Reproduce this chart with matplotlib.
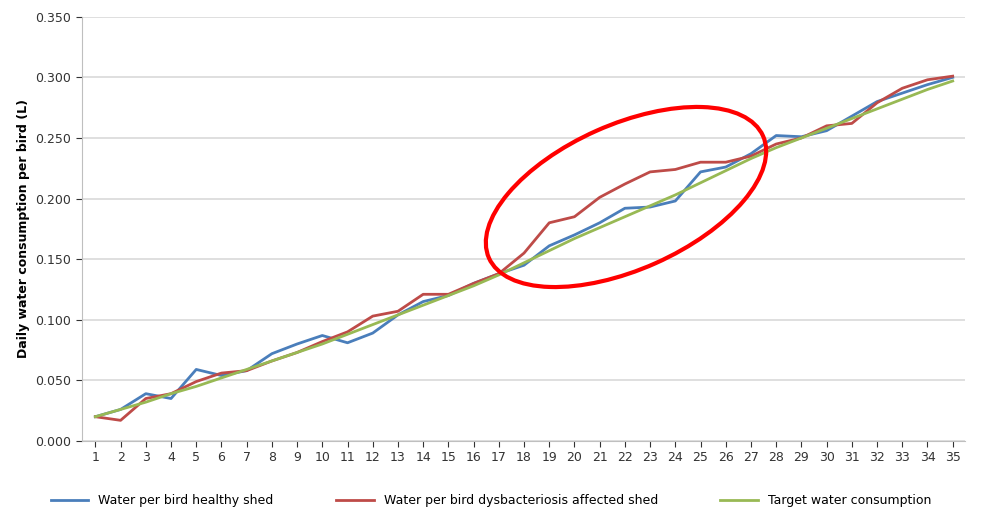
import matplotlib.pyplot as plt
from matplotlib.patches import Ellipse
from matplotlib.transforms import IdentityTransform

days = list(range(1, 36))
healthy = [0.020, 0.026, 0.039, 0.035, 0.059, 0.054, 0.058, 0.072, 0.080, 0.087,
           0.081, 0.089, 0.104, 0.115, 0.120, 0.130, 0.138, 0.145, 0.161, 0.170,
           0.180, 0.192, 0.193, 0.198, 0.222, 0.226, 0.237, 0.252, 0.251, 0.256,
           0.268, 0.280, 0.287, 0.294, 0.300]
affected = [0.020, 0.017, 0.035, 0.039, 0.049, 0.056, 0.058, 0.066, 0.073, 0.082,
            0.090, 0.103, 0.107, 0.121, 0.121, 0.130, 0.138, 0.155, 0.180, 0.185,
            0.201, 0.212, 0.222, 0.224, 0.230, 0.230, 0.235, 0.245, 0.250, 0.260,
            0.262, 0.279, 0.291, 0.298, 0.301]
target = [0.020, 0.026, 0.032, 0.039, 0.045, 0.052, 0.059, 0.066, 0.073, 0.080,
          0.088, 0.096, 0.104, 0.112, 0.120, 0.128, 0.137, 0.147, 0.157, 0.167,
          0.176, 0.185, 0.194, 0.203, 0.213, 0.223, 0.233, 0.242, 0.250, 0.258,
          0.266, 0.274, 0.282, 0.290, 0.297]

fig = plt.figure(figsize=(9.82, 5.08), dpi=100)
ax = fig.add_axes([0.083, 0.132, 0.9, 0.835])

ax.plot(days, healthy, color='#4a7ebb', lw=2, label='Water per bird healthy shed')
ax.plot(days, affected, color='#be4b48', lw=2, label='Water per bird dysbacteriosis affected shed')
ax.plot(days, target, color='#98b954', lw=2, label='Target water consumption')

ax.set_xlim(0.45, 35.5)
ax.set_ylim(0, 0.35)
ax.set_xticks(days)
ax.set_yticks([i * 0.05 for i in range(8)])
ax.set_yticklabels([f'{i * 0.05:.3f}' for i in range(8)])
ax.tick_params(labelsize=9, colors='#333333', length=4)
ax.grid(axis='y', color='#d9d9d9', lw=1.2)
ax.set_axisbelow(True)
for s in ['top', 'right']:
    ax.spines[s].set_visible(False)
ax.spines['left'].set_color('#bfbfbf')
ax.spines['bottom'].set_color('#bfbfbf')
ax.set_ylabel('Daily water consumption per bird (L)', fontsize=9, fontweight='bold')

fig.legend(loc='lower center', ncol=3, frameon=False, fontsize=9,
           bbox_to_anchor=(0.5, -0.02), columnspacing=5, handlelength=3)

fig.patches.append(Ellipse((626, 508 - 197), 300, 145, angle=24, fill=False,
                           edgecolor='red', lw=3, transform=IdentityTransform(),
                           figure=fig))

fig.savefig('out.png', dpi=100)
